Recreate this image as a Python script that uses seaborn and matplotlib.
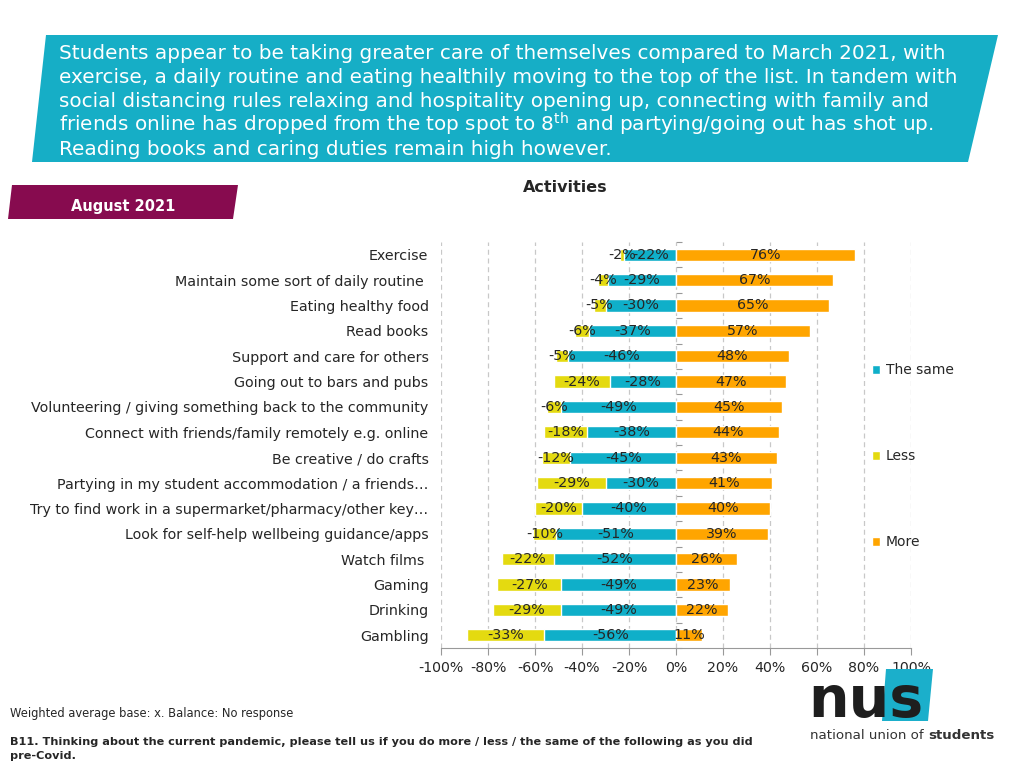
import pandas as pd
import matplotlib.pyplot as plt
import seaborn as sns
from matplotlib.patches import Polygon, Patch

# chart data
activities = [
    'Exercise',
    'Maintain some sort of daily routine ',
    'Eating healthy food',
    'Read books',
    'Support and care for others',
    'Going out to bars and pubs',
    'Volunteering / giving something back to the community',
    'Connect with friends/family remotely e.g. online',
    'Be creative / do crafts',
    'Partying in my student accommodation / a friends\u2026',
    'Try to find work in a supermarket/pharmacy/other key\u2026',
    'Look for self-help wellbeing guidance/apps',
    'Watch films ',
    'Gaming',
    'Drinking',
    'Gambling',
]
same = [22, 29, 30, 37, 46, 28, 49, 38, 45, 30, 40, 51, 52, 49, 49, 56]
less = [2, 4, 5, 6, 5, 24, 6, 18, 12, 29, 20, 10, 22, 27, 29, 33]
more = [76, 67, 65, 57, 48, 47, 45, 44, 43, 41, 40, 39, 26, 23, 22, 11]
xticks = list(range(-100, 101, 20))

TEAL = '#0FAFC9'
YELLOW = '#E4DA10'
ORANGE = '#FFA500'

df = pd.DataFrame({'activity': activities, 'same': same, 'less': less, 'more': more})
df['same_neg'] = -df['same']
df['less_cum'] = -(df['same'] + df['less'])

sns.set_style('white')
plt.rcParams['font.family'] = ['DejaVu Sans']

fig = plt.figure(figsize=(10.24, 7.68), dpi=100)
W, H = 1024, 768


def fx(px):
    return px / W


def fy(py):
    return 1 - py / H


# header banner
fig.patches.append(Polygon([(fx(46), fy(35)), (fx(998), fy(35)), (fx(968), fy(162)), (fx(32), fy(162))],
                           closed=True, transform=fig.transFigure, facecolor='#16AEC6', edgecolor='none'))
header = [
    'Students appear to be taking greater care of themselves compared to March 2021, with',
    'exercise, a daily routine and eating healthily moving to the top of the list. In tandem with',
    'social distancing rules relaxing and hospitality opening up, connecting with family and',
    'friends online has dropped from the top spot to 8$^{\\mathrm{th}}$ and partying/going out has shot up.',
    'Reading books and caring duties remain high however.',
]
for i, line in enumerate(header):
    fig.text(fx(59), fy(59 + 24 * i), line, color='white', fontsize=14.4, va='baseline', ha='left')

# date tag
fig.patches.append(Polygon([(fx(12), fy(185)), (fx(238), fy(185)), (fx(233), fy(219)), (fx(8), fy(219))],
                           closed=True, transform=fig.transFigure, facecolor='#870B4F', edgecolor='none'))
fig.text(fx(123), fy(206), 'August 2021', color='white', fontsize=10.5, fontweight='bold', ha='center', va='center')

fig.text(fx(565), fy(187), 'Activities', fontsize=11.5, fontweight='bold', ha='center', va='center')

# main chart
ax = fig.add_axes([fx(441), fy(648), fx(911) - fx(441), (648 - 242) / H])
sns.barplot(data=df, y='activity', x='less_cum', color=YELLOW, width=0.48, orient='h',
            saturation=1, ax=ax, zorder=2)
sns.barplot(data=df, y='activity', x='same_neg', color=TEAL, width=0.48, orient='h',
            saturation=1, ax=ax, zorder=3)
sns.barplot(data=df, y='activity', x='more', color=ORANGE, width=0.48, orient='h',
            saturation=1, ax=ax, zorder=3)

for i, row in df.iterrows():
    ax.text(-row['same'] / 2, i, f"-{row['same']}%", ha='center', va='center', fontsize=10.3, zorder=5)
    ax.text(-(row['same'] + row['less'] / 2), i, f"-{row['less']}%", ha='center', va='center',
            fontsize=10.3, zorder=5)
    ax.text(row['more'] / 2, i, f"{row['more']}%", ha='center', va='center', fontsize=10.3, zorder=5)

ax.set_xlim(-100, 100)
ax.set_ylim(len(activities) - 0.5, -0.5)
ax.set_xticks(xticks)
ax.set_xticklabels([f'{t}%' for t in xticks], fontsize=10.2)
ax.set_xlabel('')
ax.set_ylabel('')
ax.tick_params(axis='x', direction='out', length=5, color='#999999', pad=4, bottom=True)
ax.tick_params(axis='y', length=0, pad=9, labelsize=10.3)
ax.set_axisbelow(True)
ax.grid(axis='x', linestyle=(0, (4, 3)), color='#c8c8c8', linewidth=0.9)
ax.grid(axis='y', visible=False)
for s in ['top', 'right', 'left']:
    ax.spines[s].set_visible(False)
ax.spines['bottom'].set_color('#999999')

# zero axis with category ticks
sec = ax.secondary_yaxis(0.5)
sec.set_yticks([i - 0.5 for i in range(len(activities) + 1)])
sec.set_yticklabels([])
sec.tick_params(axis='y', length=4, color='#999999', direction='out')
sec.spines['left'].set_color('#999999')
for s in ['top', 'right', 'bottom']:
    sec.spines[s].set_visible(False)

handles = [Patch(facecolor=TEAL), Patch(facecolor=YELLOW), Patch(facecolor=ORANGE)]
fig.legend(handles, ['The same', 'Less', 'More'], loc='upper left',
           bbox_to_anchor=(fx(872), fy(363)), bbox_transform=fig.transFigure,
           frameon=False, fontsize=10, handlelength=0.6, handleheight=0.6,
           handletextpad=0.4, labelspacing=5.2, borderpad=0, borderaxespad=0)

# footnotes
fig.text(fx(10), fy(714), 'Weighted average base: x. Balance: No response', fontsize=8.3, va='center')
fig.text(fx(10), fy(742), 'B11. Thinking about the current pandemic, please tell us if you do more / less / '
         'the same of the following as you did', fontsize=8.15, fontweight='bold', va='center')
fig.text(fx(10), fy(756), 'pre-Covid.', fontsize=8.15, fontweight='bold', va='center')

# logo
fig.patches.append(Polygon([(fx(886), fy(669)), (fx(933), fy(669)), (fx(928), fy(721)), (fx(882), fy(721))],
                           closed=True, transform=fig.transFigure, facecolor='#1BAFCB', edgecolor='none'))
fig.text(fx(808), fy(717), 'nus', fontsize=41, fontweight='heavy', color='#1e1e1e', va='baseline', ha='left')
t1 = fig.text(fx(810), fy(739), 'national union of ', fontsize=9.6, color='#333333', va='baseline', ha='left')
fig.add_artist(plt.Annotation('students', xy=(1, 0), xycoords=t1, fontsize=9.6, fontweight='bold',
                              color='#333333', va='bottom', ha='left'))

plt.savefig('out.png', dpi=100)
plt.close()
